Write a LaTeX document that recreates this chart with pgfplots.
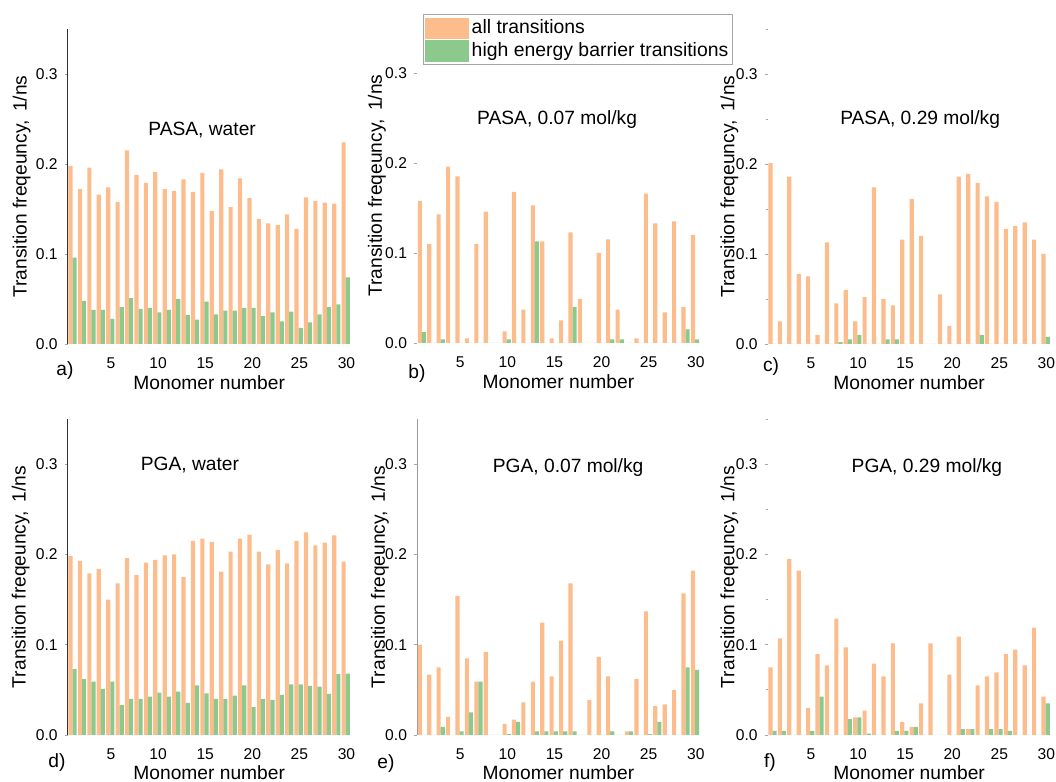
\documentclass[border=0pt]{standalone}
\usepackage{fontspec}
\setmainfont{Liberation Sans}
\usepackage{pgfplots}
\usepackage{pgfplotstable}
\pgfplotsset{compat=1.18}

\definecolor{allc}{RGB}{253,188,140}
\definecolor{highc}{RGB}{140,201,140}

% transition frequencies (1/ns) per monomer: all transitions / high energy barrier ones
\pgfplotstableread{
n all high
1 0.198 0.096
2 0.172 0.048
3 0.196 0.038
4 0.166 0.038
5 0.174 0.028
6 0.158 0.041
7 0.215 0.051
8 0.188 0.039
9 0.179 0.040
10 0.191 0.035
11 0.172 0.038
12 0.170 0.050
13 0.183 0.032
14 0.169 0.027
15 0.190 0.047
16 0.148 0.033
17 0.194 0.037
18 0.152 0.037
19 0.184 0.040
20 0.162 0.040
21 0.139 0.031
22 0.134 0.035
23 0.132 0.025
24 0.144 0.036
25 0.128 0.018
26 0.163 0.024
27 0.159 0.033
28 0.157 0.041
29 0.156 0.044
30 0.224 0.074
}\pasawater

\pgfplotstableread{
n all high
1 0.158 0.012
2 0.110 0
3 0.143 0.004
4 0.196 0
5 0.185 0
6 0.005 0
7 0.110 0
8 0.146 0
9 0 0
10 0.013 0.004
11 0.168 0
12 0.037 0
13 0.153 0.113
14 0.113 0
15 0.005 0
16 0.025 0
17 0.123 0.040
18 0.049 0
19 0 0
20 0.100 0
21 0.115 0.004
22 0.037 0.004
23 0 0
24 0.005 0
25 0.166 0
26 0.133 0
27 0.034 0
28 0.135 0
29 0.040 0.015
30 0.120 0.004
}\pasalow

\pgfplotstableread{
n all high
1 0.201 0
2 0.025 0
3 0.186 0
4 0.078 0
5 0.075 0
6 0.010 0
7 0.113 0
8 0.045 0.002
9 0.060 0.005
10 0.025 0.010
11 0.052 0
12 0.174 0
13 0.050 0.005
14 0.043 0.005
15 0.116 0
16 0.161 0
17 0.120 0
18 0 0
19 0.055 0
20 0.020 0
21 0.186 0
22 0.189 0
23 0.179 0.010
24 0.164 0
25 0.158 0
26 0.128 0
27 0.131 0
28 0.135 0
29 0.116 0
30 0.100 0.008
}\pasahigh

\pgfplotstableread{
n all high
1 0.198 0.073
2 0.193 0.062
3 0.179 0.059
4 0.184 0.051
5 0.150 0.059
6 0.168 0.033
7 0.196 0.040
8 0.177 0.040
9 0.191 0.0425
10 0.194 0.047
11 0.199 0.0425
12 0.200 0.048
13 0.175 0.0355
14 0.215 0.055
15 0.2175 0.046
16 0.214 0.040
17 0.181 0.040
18 0.203 0.0435
19 0.2175 0.055
20 0.222 0.031
21 0.203 0.040
22 0.189 0.039
23 0.205 0.0445
24 0.190 0.056
25 0.215 0.056
26 0.2245 0.0545
27 0.210 0.0535
28 0.213 0.0455
29 0.221 0.0675
30 0.192 0.068
}\pgawater

\pgfplotstableread{
n all high
1 0.100 0
2 0.067 0
3 0.075 0.009
4 0.020 0
5 0.154 0.004
6 0.085 0.025
7 0.059 0.059
8 0.092 0
9 0 0
10 0.012 0.001
11 0.017 0.0145
12 0.036 0
13 0.059 0.004
14 0.1245 0.004
15 0.065 0.004
16 0.1045 0.004
17 0.168 0.004
18 0 0
19 0.039 0
20 0.0865 0
21 0.065 0.004
22 0 0
23 0.004 0.004
24 0.062 0
25 0.137 0.001
26 0.032 0.0145
27 0.034 0
28 0.050 0
29 0.157 0.075
30 0.182 0.072
}\pgalow

\pgfplotstableread{
n all high
1 0.075 0.0045
2 0.107 0.0045
3 0.195 0
4 0.182 0
5 0.030 0.0045
6 0.0895 0.0425
7 0.077 0
8 0.129 0
9 0.097 0.0175
10 0.0195 0.0195
11 0.027 0.0015
12 0.079 0
13 0.065 0
14 0.1015 0.0045
15 0.0145 0.0045
16 0.009 0.009
17 0.035 0
18 0.1015 0
19 0 0
20 0.067 0
21 0.109 0.0065
22 0.0065 0.0065
23 0.055 0
24 0.065 0.0065
25 0.0695 0.0065
26 0.0895 0.0045
27 0.0945 0
28 0.077 0
29 0.119 0
30 0.0425 0.035
}\pgahigh

\newcommand{\lblfont}{\fontsize{9.6}{11}\selectfont}

\pgfplotsset{
  panel/.style={
    scale only axis, width=141.5pt, height=157.5pt,
    xmin=0.4, xmax=30.45, ymin=0, ymax=0.35,
    axis x line*=bottom, axis y line*=left,
    x axis line style={draw=none},
    xtick={5,10,...,30}, ytick={0,0.1,0.2,0.3},
    major x tick style={draw=none},
    ytick style={gray!70, thin},
    tick align=outside, major tick length=1.5pt, minor tick length=1pt,
    /pgf/number format/assume math mode=true,
    y tick label style={/pgf/number format/.cd, fixed, fixed zerofill, precision=1, /tikz/.cd},
    tick label style={font=\fontsize{7.8}{9}\selectfont, black},
    xticklabel style={yshift=-2pt},
    label style={font=\lblfont},
    xlabel={Monomer number},
    ylabel={Transition freqeuncy,\hspace{0.45em}1/ns},
    clip=false,
  },
  allbars/.style={ybar, bar width=0.44, bar shift=-0.3, fill=allc, draw=none},
  highbars/.style={ybar, bar width=0.44, bar shift=0.14, fill=highc, draw=none},
}

\begin{document}
\begin{tikzpicture}
\useasboundingbox (0,0) rectangle (528pt,391pt);

% a) PASA, water
\begin{axis}[panel, at={(33.85pt,219pt)}, anchor=south west,
  y axis line style={black!80},
  xlabel style={at={(axis description cs:0.5,-0.124)}, anchor=center},
  ylabel style={at={(axis description cs:-0.163,0.5)}, anchor=center}]
  \addplot[allbars] table[x=n, y=all] {\pasawater};
  \addplot[highbars] table[x=n, y=high] {\pasawater};
  \node[font=\lblfont] at (axis description cs:0.475,0.68) {PASA, water};
  \node[font=\lblfont] at (axis description cs:-0.01,-0.083) {a)};
\end{axis}

% b) PASA, 0.07 mol/kg
\begin{axis}[panel, at={(208.5pt,219.5pt)}, anchor=south west,
  y axis line style={draw=none},
  xlabel style={at={(axis description cs:0.5,-0.124)}, anchor=center},
  ylabel style={at={(axis description cs:-0.142,0.5)}, anchor=center},
  legend style={at={(axis description cs:0.021,1.044)}, anchor=north west,
    draw=gray!70, thin, fill=white, font=\fontsize{9.7}{11}\selectfont,
    inner xsep=1pt, inner ysep=1.5pt, row sep=0.8pt,
    nodes={inner xsep=1.2pt, inner ysep=0.5pt}},
  legend cell align=left]
  \addplot[allbars, legend image code/.code={\fill[allc] (0pt,-5.3pt) rectangle (22pt,5.3pt);}]
    table[x=n, y=all] {\pasalow};
  \addplot[highbars, legend image code/.code={\fill[highc] (0pt,-5.3pt) rectangle (22pt,5.3pt);}]
    table[x=n, y=high] {\pasalow};
  \legend{all transitions, high energy barrier transitions}
  \node[font=\lblfont] at (axis description cs:0.495,0.709) {PASA, 0.07 mol/kg};
  \node[font=\lblfont] at (axis description cs:0,-0.098) {b)};
\end{axis}

% c) PASA, 0.29 mol/kg
\begin{axis}[panel, at={(383.8pt,219pt)}, anchor=south west,
  y axis line style={draw=none},
  minor ytick={0.05,0.15,0.25,0.35},
  xlabel style={at={(axis description cs:0.5,-0.124)}, anchor=center},
  ylabel style={at={(axis description cs:-0.135,0.5)}, anchor=center}]
  \addplot[allbars] table[x=n, y=all] {\pasahigh};
  \addplot[highbars] table[x=n, y=high] {\pasahigh};
  \node[font=\lblfont] at (axis description cs:0.539,0.711) {PASA, 0.29 mol/kg};
  \node[font=\lblfont] at (axis description cs:0.012,-0.073) {c)};
\end{axis}

% d) PGA, water
\begin{axis}[panel, at={(33.85pt,23.5pt)}, anchor=south west, height=158pt,
  y axis line style={black!80},
  xlabel style={at={(axis description cs:0.5,-0.118)}, anchor=center},
  ylabel style={at={(axis description cs:-0.166,0.5)}, anchor=center}]
  \addplot[allbars] table[x=n, y=all] {\pgawater};
  \addplot[highbars] table[x=n, y=high] {\pgawater};
  \node[font=\lblfont] at (axis description cs:0.432,0.854) {PGA, water};
  \node[font=\lblfont] at (axis description cs:-0.038,-0.086) {d)};
\end{axis}

% e) PGA, 0.07 mol/kg
\begin{axis}[panel, at={(208.5pt,23.5pt)}, anchor=south west, height=158pt,
  y axis line style={gray!80},
  xlabel style={at={(axis description cs:0.5,-0.118)}, anchor=center},
  ylabel style={at={(axis description cs:-0.131,0.5)}, anchor=center}]
  \addplot[allbars] table[x=n, y=all] {\pgalow};
  \addplot[highbars] table[x=n, y=high] {\pgalow};
  \node[font=\lblfont] at (axis description cs:0.534,0.846) {PGA, 0.07 mol/kg};
  \node[font=\lblfont] at (axis description cs:-0.11,-0.09) {e)};
\end{axis}

% f) PGA, 0.29 mol/kg
\begin{axis}[panel, at={(383.8pt,23.5pt)}, anchor=south west, height=158pt,
  y axis line style={draw=none},
  minor ytick={0.05,0.15,0.25,0.35},
  xlabel style={at={(axis description cs:0.5,-0.118)}, anchor=center},
  ylabel style={at={(axis description cs:-0.135,0.5)}, anchor=center}]
  \addplot[allbars] table[x=n, y=all] {\pgahigh};
  \addplot[highbars] table[x=n, y=high] {\pgahigh};
  \node[font=\lblfont] at (axis description cs:0.563,0.846) {PGA, 0.29 mol/kg};
  \node[font=\lblfont] at (axis description cs:0.008,-0.088) {f)};
\end{axis}
\end{tikzpicture}
\end{document}
